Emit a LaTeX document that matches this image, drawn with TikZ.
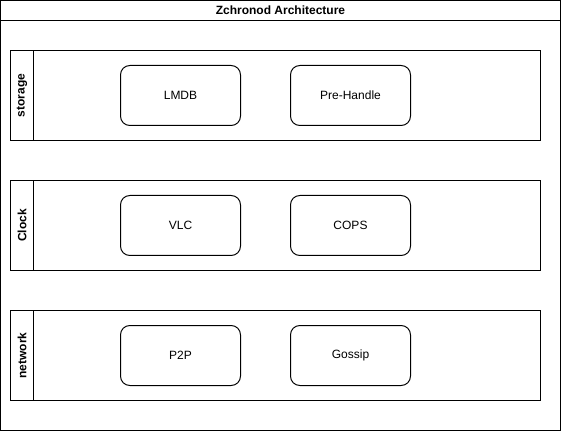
\documentclass[tikz,border=0pt]{standalone}
\usepackage{fontspec}
\setmainfont{Liberation Sans}
\usetikzlibrary{positioning}

\begin{document}
\begin{tikzpicture}[
        x=0.75pt, y=-0.75pt,
        line width=0.75pt,
        framebox/.style={draw, minimum width=420pt, minimum height=322.5pt, inner sep=0pt},
        titlebar/.style={draw, minimum width=420pt, minimum height=15pt, inner sep=0pt, font=\bfseries\fontsize{9}{11}\selectfont},
        lanebox/.style={draw, minimum width=397.5pt, minimum height=67.5pt, inner sep=0pt},
        lanehead/.style={draw, minimum width=17.25pt, minimum height=67.5pt, inner sep=0pt},
        lanelabel/.style={rotate=90, font=\bfseries\fontsize{9}{11}\selectfont},
        compbox/.style={draw, rounded corners=7pt, minimum width=90pt, minimum height=45pt, inner sep=0pt, font=\fontsize{9}{11}\selectfont}
    ]
        \useasboundingbox (0,0) rectangle (561,431);
        \node[framebox] (frame) at (280.5,215.5) {};
        \node[titlebar, below=0pt of frame.north] (title) {Zchronod Architecture};

        \node[lanebox] (storage) at (275.5,95.5) {};
        \node[lanehead, right=0pt of storage.west, anchor=west] (storagehead) {};
        \node[lanelabel] at (storagehead) {storage};
        \node[compbox] (lmdb) at (180.5,95.5) {LMDB};
        \node[compbox, right=36.75pt of lmdb] (prehandle) {Pre-Handle};

        \node[lanebox] (clock) at (275.5,225.5) {};
        \node[lanehead, right=0pt of clock.west, anchor=west] (clockhead) {};
        \node[lanelabel] at (clockhead) {Clock};
        \node[compbox] (vlc) at (180.5,225.5) {VLC};
        \node[compbox, right=36.75pt of vlc] (cops) {COPS};

        \node[lanebox] (network) at (275.5,355.5) {};
        \node[lanehead, right=0pt of network.west, anchor=west] (networkhead) {};
        \node[lanelabel] at (networkhead) {network};
        \node[compbox] (ptp) at (180.5,355.5) {P2P};
        \node[compbox, right=36.75pt of ptp] (gossip) {Gossip};
    \end{tikzpicture}
\end{document}
